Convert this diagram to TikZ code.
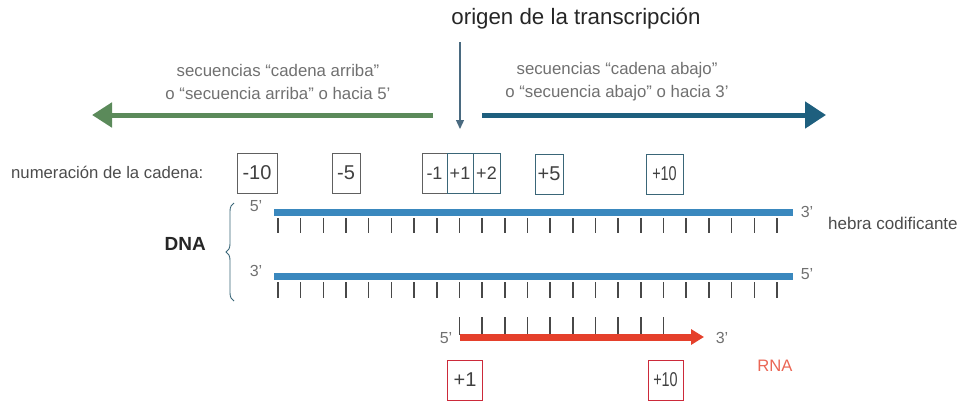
\documentclass[tikz,border=0pt]{standalone}
\usepackage{fontspec}
\setmainfont{Liberation Sans}
\newfontfamily\condfont{Liberation Sans}[FakeStretch=0.72]
\usetikzlibrary{arrows.meta,decorations.pathreplacing}
\definecolor{grn}{HTML}{5B8A5A}
\definecolor{tealar}{HTML}{1E5F7E}
\definecolor{strand}{HTML}{3A88BE}
\definecolor{tick}{HTML}{484848}
\definecolor{rnared}{HTML}{E5402B}
\definecolor{boxred}{HTML}{CC2A3A}
\definecolor{boxgray}{HTML}{606060}
\definecolor{boxteal}{HTML}{3A6678}
\definecolor{txtgray}{HTML}{707070}
\definecolor{origin}{HTML}{4A6A80}
\begin{document}
\begin{tikzpicture}[x=1pt,y=-1pt,
  seqtxt/.style={text=txtgray, font=\fontsize{16.8}{23}\selectfont, align=center, inner sep=0},
  numbox/.style={draw, line width=1pt, minimum height=40pt, inner sep=0, font=\fontsize{20}{20}\selectfont, text=black!75},
  smallbox/.style={numbox, font=\fontsize{18}{18}\selectfont},
  endlbl/.style={text=txtgray, font=\fontsize{16}{16}\selectfont, inner sep=0},
  bar/.style={line width=7pt, strand},
  tickln/.style={line width=1.5pt, tick}]
\useasboundingbox (0,0) rectangle (959,402);

% title and origin arrow
\node[font=\fontsize{22.3}{22.3}\selectfont, text=black!85, inner sep=0] (title) at (576,19) {origen de la transcripción};
\coordinate (o1) at (460,42);
\coordinate (o2) at (460,129);
\draw[origin, line width=1.3pt, -{Triangle[length=9pt,width=8pt]}] (o1) -- (o2);

% direction arrows
\coordinate (g1) at (433,115);
\coordinate (g2) at (92,115);
\draw[grn, line width=5pt, -{Triangle[length=20pt,width=24pt]}] (g1) -- (g2);
\coordinate (b1) at (482,115);
\coordinate (b2) at (826,115);
\draw[tealar, line width=5pt, -{Triangle[length=21pt,width=26pt]}] (b1) -- (b2);

\node[seqtxt] (up) at (278,82) {secuencias “cadena arriba”\\o “secuencia arriba” o hacia 5'};
\node[seqtxt] (down) at (617,82) {secuencias “cadena abajo”\\o “secuencia abajo” o hacia 3'};

% numbering
\node[text=black!70, font=\fontsize{16.7}{16.7}\selectfont, anchor=west, inner sep=0] (numlbl) at (11,172) {numeración de la cadena:};
\node[numbox, draw=boxgray, minimum width=40pt] (m10) at (257,173) {-10};
\node[numbox, draw=boxgray, minimum width=28pt] (m5) at (346,173) {-5};
\node[smallbox, draw=boxgray, minimum width=25pt] (m1) at (434.5,173) {-1};
\node[smallbox, draw=boxteal, minimum width=26pt] (p1) at (460,173) {+1};
\node[smallbox, draw=boxteal, minimum width=27pt] (p2) at (486.5,173) {+2};
\node[numbox, draw=boxteal, minimum width=28pt] (p5) at (549,174) {+5};
\node[numbox, draw=boxteal, minimum width=37pt] (p10) at (664.5,174) {\condfont +10};

% DNA strands
\coordinate (s1a) at (274,212);
\coordinate (s1b) at (793,212);
\coordinate (s2a) at (274,276);
\coordinate (s2b) at (793,276);
\draw[bar] (s1a) -- (s1b);
\draw[bar] (s2a) -- (s2b);
\foreach \k in {0,...,22} {
  \draw[tickln] (278+\k*22.68,218) -- (278+\k*22.68,233);
  \draw[tickln] (278+\k*22.68,282) -- (278+\k*22.68,298);
}
\node[endlbl] (l5) at (256,206) {5'};
\node[endlbl] (l3) at (256,271) {3'};
\node[endlbl] (r3) at (807,212) {3'};
\node[endlbl] (r5) at (807,274) {5'};
\node[text=black!70, font=\fontsize{17}{17}\selectfont, anchor=west, inner sep=0] (hebra) at (828,223) {hebra codificante};

% DNA brace
\coordinate (br1) at (234,301);
\coordinate (br2) at (234,203);
\draw[boxteal, line width=0.9pt, decorate, decoration={brace, amplitude=8pt}] (br1) -- (br2);
\node[font=\bfseries\fontsize{19}{19}\selectfont, text=black!85, anchor=east, inner sep=0] (dna) at (206,244) {DNA};

% RNA
\coordinate (ra) at (460,337);
\coordinate (rb) at (704,337);
\foreach \k in {8,...,17} {
  \draw[tickln] (278+\k*22.68,317) -- (278+\k*22.68,335);
}
\draw[rnared, line width=7pt, -{Triangle[length=13pt,width=15pt]}] (ra) -- (rb);
\node[endlbl] (rl5) at (446,338) {5'};
\node[endlbl] (rr3) at (722,338) {3'};
\node[text=rnared!80, font=\fontsize{16.6}{16.6}\selectfont, inner sep=0] (rnalbl) at (775,366) {RNA};
\node[numbox, draw=boxred, minimum width=35pt] (bp1) at (465,380) {+1};
\node[numbox, draw=boxred, minimum width=35pt] (bp10) at (665.5,380) {\condfont +10};
\end{tikzpicture}
\end{document}
